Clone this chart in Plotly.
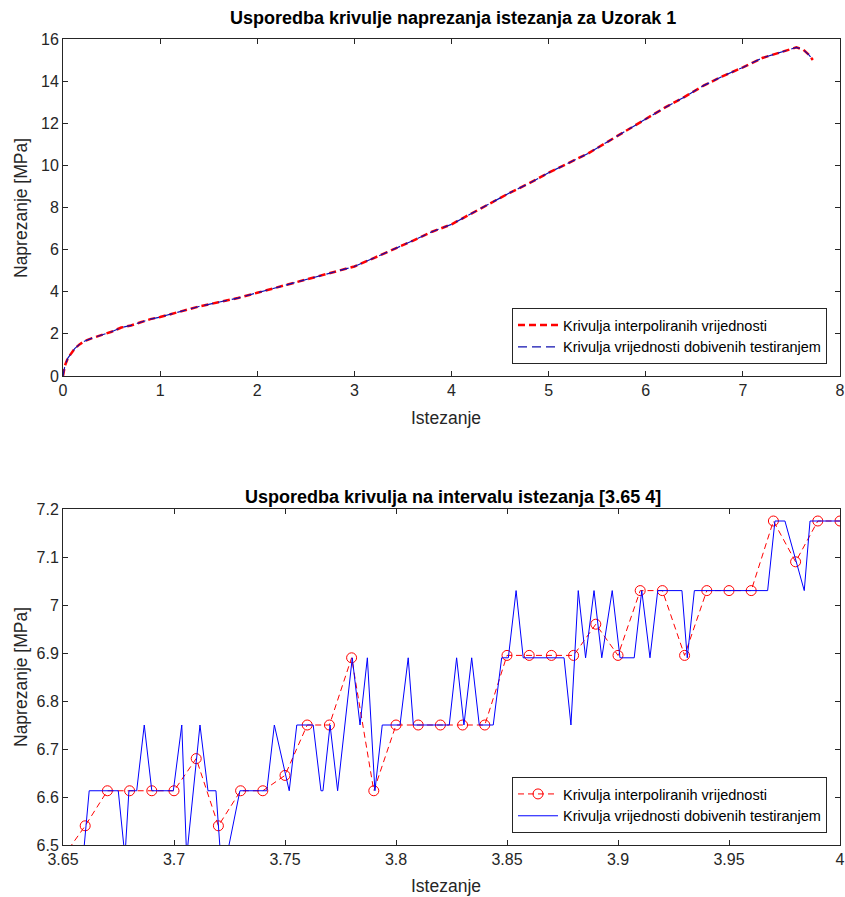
import plotly.graph_objects as go

# ---------------- Top chart data (strain, stress) ----------------
strain_full = [0.0, 0.02, 0.05, 0.08, 0.12, 0.17, 0.22, 0.3, 0.4, 0.5, 0.6, 0.7, 0.8, 0.9,
               1.0, 1.2, 1.4, 1.6, 1.8, 2.0, 2.2, 2.4, 2.6, 2.8, 3.0, 3.2, 3.4, 3.6, 3.8,
               4.0, 4.2, 4.4, 4.6, 4.8, 5.0, 5.2, 5.4, 5.6, 5.8, 6.0, 6.2, 6.4, 6.6, 6.8,
               7.0, 7.2, 7.4, 7.55, 7.62, 7.68, 7.72]
stress_interp_full = [0.0, 0.5, 0.85, 1.05, 1.3, 1.5, 1.65, 1.8, 1.95, 2.1, 2.3, 2.4, 2.55, 2.7,
                      2.8, 3.05, 3.3, 3.5, 3.7, 3.95, 4.2, 4.45, 4.7, 4.95, 5.2, 5.6, 6.0, 6.42, 6.85,
                      7.2, 7.7, 8.2, 8.7, 9.15, 9.65, 10.1, 10.55, 11.1, 11.65, 12.2, 12.75, 13.25, 13.8, 14.25,
                      14.65, 15.1, 15.4, 15.6, 15.5, 15.25, 15.0]
stress_test_full = [0.0, 0.5, 0.85, 1.05, 1.3, 1.5, 1.65, 1.8, 1.95, 2.1, 2.3, 2.4, 2.55, 2.7,
                    2.8, 3.05, 3.3, 3.5, 3.7, 3.95, 4.2, 4.45, 4.7, 4.95, 5.2, 5.6, 6.0, 6.42, 6.85,
                    7.2, 7.7, 8.2, 8.7, 9.15, 9.65, 10.1, 10.55, 11.1, 11.65, 12.2, 12.75, 13.25, 13.8, 14.25,
                    14.65, 15.1, 15.4, 15.6, 15.5, 15.25, 15.0]

# ---------------- Bottom chart data (interval 3.65 - 4) ----------------
strain_interp = [3.65, 3.66, 3.67, 3.68, 3.69, 3.70, 3.71, 3.72, 3.73, 3.74, 3.75, 3.76,
                 3.77, 3.78, 3.79, 3.80, 3.81, 3.82, 3.83, 3.84, 3.85, 3.86, 3.87, 3.88,
                 3.89, 3.90, 3.91, 3.92, 3.93, 3.94, 3.95, 3.96, 3.97, 3.98, 3.99, 4.00]
stress_interp = [6.475, 6.54, 6.613, 6.613, 6.613, 6.613, 6.68, 6.54, 6.613, 6.613, 6.645, 6.75,
                 6.75, 6.89, 6.613, 6.75, 6.75, 6.75, 6.75, 6.75, 6.895, 6.895, 6.895, 6.895,
                 6.96, 6.895, 7.03, 7.03, 6.895, 7.03, 7.03, 7.03, 7.175, 7.09, 7.175, 7.175]

strain_test = [3.6500, 3.6591, 3.6618, 3.6749, 3.6779, 3.6797, 3.6832, 3.6866, 3.6900, 3.6997,
               3.7035, 3.7057, 3.7117, 3.7153, 3.7189, 3.7210, 3.7237, 3.7297, 3.7418, 3.7452,
               3.7519, 3.7553, 3.7627, 3.7662, 3.7671, 3.7703, 3.7737, 3.7803, 3.7838, 3.7871,
               3.7905, 3.7938, 3.8018, 3.8055, 3.8078, 3.8240, 3.8273, 3.8306, 3.8341, 3.8375,
               3.8438, 3.8476, 3.8506, 3.8541, 3.8573, 3.8757, 3.8788, 3.8821, 3.8854, 3.8892,
               3.8927, 3.8974, 3.9009, 3.9073, 3.9107, 3.9144, 3.9179, 3.9288, 3.9312, 3.9344,
               3.9674, 3.9707, 3.9752, 3.9839, 3.9865, 4.0000]
stress_test = [6.475, 6.475, 6.613, 6.613, 6.475, 6.613, 6.613, 6.75, 6.613, 6.613,
               6.75, 6.475, 6.75, 6.613, 6.613, 6.475, 6.475, 6.613, 6.613, 6.75,
               6.613, 6.75, 6.75, 6.613, 6.613, 6.75, 6.613, 6.89, 6.75, 6.89,
               6.613, 6.75, 6.75, 6.89, 6.75, 6.75, 6.89, 6.75, 6.89, 6.75,
               6.75, 6.89, 6.89, 7.03, 6.89, 6.89, 6.75, 7.03, 6.89, 7.03,
               6.89, 7.03, 6.89, 6.89, 7.03, 6.89, 7.03, 7.03, 6.89, 7.03,
               7.03, 7.175, 7.175, 7.03, 7.175, 7.175]

# ---------------- Tick labels ----------------
top_xticks = [0, 1, 2, 3, 4, 5, 6, 7, 8]
top_yticks = [0, 2, 4, 6, 8, 10, 12, 14, 16]
bot_xticks = [3.65, 3.7, 3.75, 3.8, 3.85, 3.9, 3.95, 4.0]
bot_xtext = ["3.65", "3.7", "3.75", "3.8", "3.85", "3.9", "3.95", "4"]
bot_yticks = [6.5, 6.6, 6.7, 6.8, 6.9, 7.0, 7.1, 7.2]
bot_ytext = ["6.5", "6.6", "6.7", "6.8", "6.9", "7", "7.1", "7.2"]

name_interp = "Krivulja interpoliranih vrijednosti"
name_test = "Krivulja vrijednosti dobivenih testiranjem"

FONT = "Liberation Sans, Arial, sans-serif"
AX = "#262626"
W, H = 845, 897


def xd(a, b):
    return [a / W, b / W]


def yd(top, bottom):
    return [1 - bottom / H, 1 - top / H]


fig = go.Figure()

fig.add_trace(go.Scatter(x=strain_full, y=stress_interp_full, mode="lines", name=name_interp,
                         line=dict(color="#ff0000", width=2.5, dash="7px,4px"),
                         xaxis="x", yaxis="y", legend="legend"))
fig.add_trace(go.Scatter(x=strain_full, y=stress_test_full, mode="lines", name=name_test,
                         line=dict(color="#1010b0", width=1.2, dash="9px,5px"),
                         xaxis="x", yaxis="y", legend="legend"))

fig.add_trace(go.Scatter(x=strain_interp, y=stress_interp, mode="lines+markers", name=name_interp,
                         line=dict(color="#ff0000", width=1, dash="6px,4px"),
                         marker=dict(symbol="circle-open", size=10, color="#ff0000",
                                     line=dict(width=1, color="#ff0000")),
                         xaxis="x2", yaxis="y2", legend="legend2"))
fig.add_trace(go.Scatter(x=strain_test, y=stress_test, mode="lines", name=name_test,
                         line=dict(color="#0000ff", width=1),
                         xaxis="x2", yaxis="y2", legend="legend2"))

axis_common = dict(showline=True, linecolor=AX, linewidth=1, mirror="ticks", ticks="inside",
                   ticklen=5, tickcolor=AX, showgrid=False, zeroline=False,
                   tickfont=dict(family=FONT, size=16, color=AX), automargin=False)

fig.update_layout(
    width=W, height=H,
    margin=dict(l=0, r=0, t=0, b=0),
    paper_bgcolor="white", plot_bgcolor="white",
    font=dict(family=FONT, color=AX),
    xaxis=dict(domain=xd(63, 840), range=[0, 8], tickvals=top_xticks,
               anchor="y", **axis_common),
    yaxis=dict(domain=yd(39, 376), range=[0, 16], tickvals=top_yticks,
               anchor="x", **axis_common),
    xaxis2=dict(domain=xd(63, 840), range=[3.65, 4.0], tickvals=bot_xticks,
                ticktext=bot_xtext, anchor="y2", **axis_common),
    yaxis2=dict(domain=yd(509, 845), range=[6.5, 7.2], tickvals=bot_yticks,
                ticktext=bot_ytext, anchor="x2", **axis_common),
    legend=dict(x=827 / W, y=1 - 364 / H, xanchor="right", yanchor="bottom",
                bordercolor=AX, borderwidth=1, bgcolor="white",
                font=dict(family=FONT, size=14.5, color="#000000"),
                tracegroupgap=0, itemwidth=40),
    legend2=dict(x=827 / W, y=1 - 833 / H, xanchor="right", yanchor="bottom",
                 bordercolor=AX, borderwidth=1, bgcolor="white",
                 font=dict(family=FONT, size=14.5, color="#000000"),
                 tracegroupgap=0, itemwidth=40),
    showlegend=True,
)


def ann(text, x, y, size, color, angle=0):
    return dict(text=text, x=x / W, y=1 - y / H, xref="paper", yref="paper", showarrow=False,
                xanchor="center", yanchor="middle", textangle=angle,
                font=dict(family=FONT, size=size, color=color))


annotations = [
    ann("<b>Usporedba krivulje naprezanja istezanja za Uzorak 1</b>", 453, 18, 18, "#000000"),
    ann("<b>Usporedba krivulja na intervalu istezanja [3.65 4]</b>", 453, 497, 18, "#000000"),
    ann("Istezanje", 446, 418, 17.5, AX),
    ann("Istezanje", 446, 886, 17.5, AX),
    ann("Naprezanje [MPa]", 21, 208, 17.5, AX, -90),
    ann("Naprezanje [MPa]", 21, 677, 17.5, AX, -90),
]
fig.update_layout(annotations=annotations)

fig.write_html("out.html",
               config={"displayModeBar": False},
               post_script="document.body.style.margin='0';document.body.style.padding='0';"
                           "document.body.style.overflow='hidden';")
